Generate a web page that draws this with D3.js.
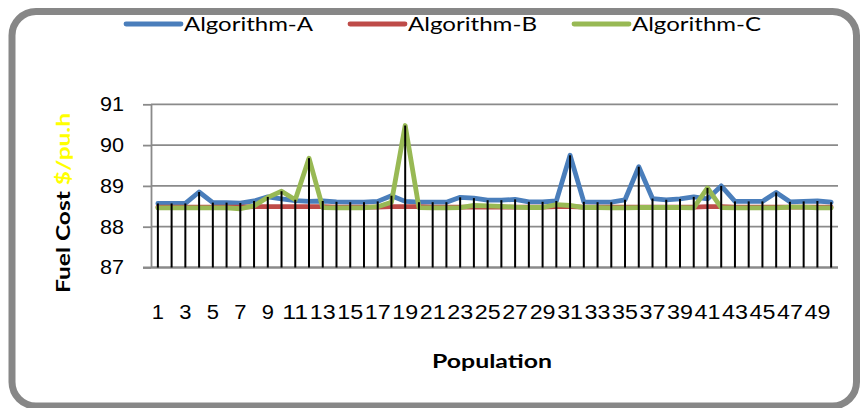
<!DOCTYPE html>
<html>
<head>
<meta charset="utf-8">
<script src="https://cdn.jsdelivr.net/npm/d3@7"></script>
<style>
  html, body { margin: 0; padding: 0; background: #fff; }
  svg { display: block; font-family: Lato, "Open Sans", sans-serif; }
</style>
</head>
<body>
<svg id="chart" width="860" height="408"></svg>
<script>
// Population index on the category axis
const categories = d3.range(1, 51);

// Fuel cost ($/pu.h) reached by each algorithm per population
const algorithmA = [
  88.57, 88.57, 88.57, 88.85, 88.59, 88.59, 88.58, 88.63, 88.73, 88.68,
  88.64, 88.62, 88.63, 88.61, 88.60, 88.60, 88.62, 88.76, 88.62, 88.60,
  88.60, 88.60, 88.72, 88.70, 88.65, 88.65, 88.67, 88.61, 88.61, 88.63,
  89.75, 88.61, 88.60, 88.60, 88.66, 89.47, 88.69, 88.66, 88.68, 88.73,
  88.68, 89.00, 88.62, 88.62, 88.62, 88.84, 88.61, 88.62, 88.63, 88.60
];
const algorithmB = [
  88.48, 88.48, 88.48, 88.48, 88.48, 88.48, 88.48, 88.49, 88.49, 88.49,
  88.49, 88.49, 88.49, 88.48, 88.48, 88.48, 88.48, 88.49, 88.49, 88.49,
  88.48, 88.48, 88.48, 88.48, 88.48, 88.48, 88.48, 88.48, 88.48, 88.49,
  88.49, 88.48, 88.48, 88.48, 88.48, 88.48, 88.48, 88.48, 88.48, 88.48,
  88.49, 88.49, 88.48, 88.48, 88.48, 88.48, 88.48, 88.48, 88.48, 88.48
];
const algorithmC = [
  88.46, 88.46, 88.46, 88.46, 88.46, 88.46, 88.44, 88.51, 88.72, 88.87,
  88.66, 89.68, 88.47, 88.46, 88.46, 88.46, 88.49, 88.60, 90.48, 88.47,
  88.46, 88.46, 88.47, 88.52, 88.51, 88.50, 88.48, 88.47, 88.47, 88.54,
  88.52, 88.47, 88.47, 88.46, 88.46, 88.47, 88.47, 88.47, 88.47, 88.46,
  88.95, 88.47, 88.46, 88.46, 88.46, 88.46, 88.48, 88.48, 88.46, 88.46
];

const seriesNames = ["Algorithm-A", "Algorithm-B", "Algorithm-C"];
const seriesColors = ["#4a7ebb", "#be4b48", "#98b954"];
const yTicks = [87, 88, 89, 90, 91];
const xTickLabels = categories.filter(c => c % 2 === 1);

const series = [algorithmA, algorithmB, algorithmC].map((values, k) => ({
  name: seriesNames[k], color: seriesColors[k], values
}));

const svg = d3.select("#chart");

// Rounded frame around the whole chart
svg.append("rect")
  .attr("x", 12).attr("y", 11.5)
  .attr("width", 844.5).attr("height", 394.5)
  .attr("rx", 24).attr("ry", 24)
  .attr("fill", "#fff")
  .attr("stroke", "#878787")
  .attr("stroke-width", 7);

const plot = { left: 151, right: 838, top: 104.3, bottom: 267.5 };

const x = d3.scaleBand().domain(categories).range([plot.left, plot.right]);
const cx = c => x(c) + x.bandwidth() / 2;
const y = d3.scaleLinear().domain([87, 91]).range([plot.bottom, plot.top]);

// Horizontal gridlines
svg.append("g")
  .selectAll("line")
  .data(yTicks)
  .join("line")
  .attr("x1", plot.left).attr("x2", plot.right)
  .attr("y1", d => y(d)).attr("y2", d => y(d))
  .attr("stroke", "#8a8a8a")
  .attr("stroke-width", 1.8);

// Value axis
const yAxis = svg.append("g")
  .attr("transform", `translate(${plot.left},0)`)
  .call(d3.axisLeft(y).tickValues(yTicks).tickFormat(d3.format("d"))
    .tickSize(8).tickSizeOuter(0).tickPadding(19));
yAxis.select(".domain").attr("stroke", "#8a8a8a").attr("stroke-width", 1.8);
yAxis.selectAll(".tick line").attr("stroke", "#8a8a8a").attr("stroke-width", 1.8);
yAxis.selectAll(".tick text")
  .attr("font-size", 20)
  .attr("fill", "#000")
  .attr("textLength", 24)
  .attr("lengthAdjust", "spacingAndGlyphs");

// Category axis
const xAxis = svg.append("g")
  .attr("transform", `translate(0,${plot.bottom})`)
  .call(d3.axisBottom(x).tickValues(xTickLabels).tickSize(0).tickSizeOuter(0));
xAxis.select(".domain").attr("stroke", "#8a8a8a").attr("stroke-width", 1.8)
  .attr("d", `M${plot.left - 8},0H${plot.right}`);
xAxis.selectAll(".tick text")
  .attr("y", 44.5)
  .attr("dy", "0.35em")
  .attr("font-size", 20)
  .attr("fill", "#000")
  .attr("textLength", d => String(d).length * 13.7 - 1.5)
  .attr("lengthAdjust", "spacingAndGlyphs");

// Series lines
const line = d3.line()
  .x((v, i) => cx(categories[i]))
  .y(v => y(v));

svg.append("g")
  .selectAll("path")
  .data(series)
  .join("path")
  .attr("d", s => line(s.values))
  .attr("fill", "none")
  .attr("stroke", s => s.color)
  .attr("stroke-width", 4.8)
  .attr("stroke-linejoin", "round")
  .attr("stroke-linecap", "round");

// Drop lines from the highest point of each category to the axis
svg.append("g")
  .selectAll("line")
  .data(categories)
  .join("line")
  .attr("x1", c => cx(c)).attr("x2", c => cx(c))
  .attr("y1", (c, i) => y(d3.max(series, s => s.values[i])))
  .attr("y2", plot.bottom)
  .attr("stroke", "#000")
  .attr("stroke-width", 2);

// Legend
const legend = svg.append("g")
  .selectAll("g")
  .data(series)
  .join("g")
  .attr("transform", (s, k) => `translate(${126 + k * 224},24)`);
legend.append("line")
  .attr("x1", 0).attr("x2", 55)
  .attr("stroke", s => s.color)
  .attr("stroke-width", 4.8)
  .attr("stroke-linecap", "round");
legend.append("text")
  .attr("x", 58)
  .attr("dy", "0.35em")
  .attr("font-size", 20)
  .attr("fill", "#000")
  .attr("textLength", 129)
  .attr("lengthAdjust", "spacingAndGlyphs")
  .text(s => s.name);

// Axis titles
svg.append("text")
  .attr("x", 492).attr("y", 361)
  .attr("dy", "0.35em")
  .attr("text-anchor", "middle")
  .attr("font-size", 19)
  .attr("font-weight", "bold")
  .attr("textLength", 120)
  .attr("lengthAdjust", "spacingAndGlyphs")
  .text("Population");

const yTitle = svg.append("text")
  .attr("transform", "translate(63,203) rotate(-90)")
  .attr("dy", "0.35em")
  .attr("text-anchor", "middle")
  .attr("font-size", 19)
  .attr("font-weight", "bold")
  .attr("textLength", 180)
  .attr("lengthAdjust", "spacingAndGlyphs");
yTitle.append("tspan").attr("fill", "#000").text("Fuel Cost ");
yTitle.append("tspan").attr("fill", "#ffff00").text("$/pu.h");
</script>
</body>
</html>
